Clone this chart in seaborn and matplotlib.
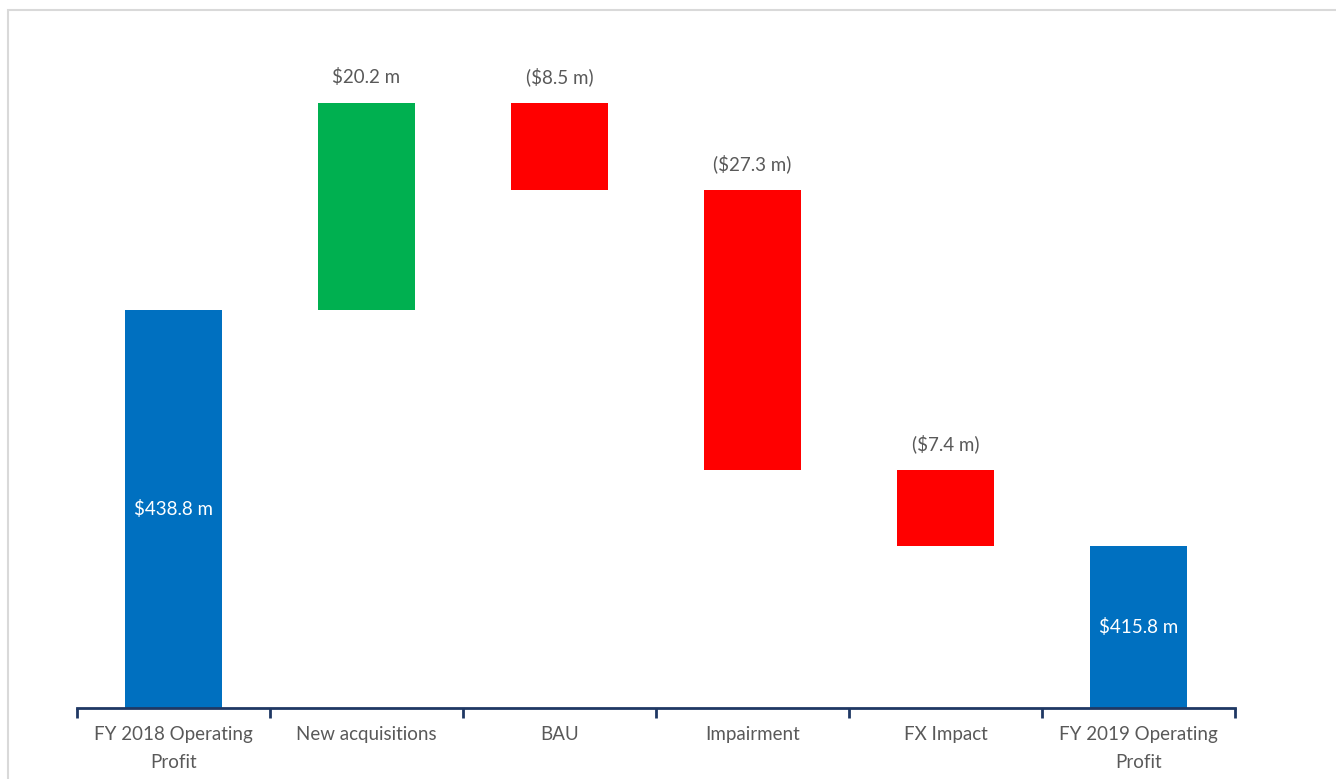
import numpy as np
import pandas as pd
import seaborn as sns
import matplotlib.pyplot as plt
from matplotlib.patches import Rectangle
from matplotlib.ticker import FixedLocator

sns.set_theme(style="white")
plt.rcParams['font.family'] = ['Lato', 'DejaVu Sans']

# waterfall data ($m)
steps = ["FY 2018 Operating\nProfit", "New acquisitions", "BAU",
         "Impairment", "FX Impact", "FY 2019 Operating\nProfit"]
changes = [438.8, 20.2, -8.5, -27.3, -7.4, 415.8]
kinds = ["total", "delta", "delta", "delta", "delta", "total"]

colors = {"total": "#0070C0", "up": "#00B050", "down": "#FF0000"}
text_col = "#595959"
axis_col = "#1F3864"

# running totals -> bar bottoms / tops
lows, highs, kind_col = [], [], []
running = 0.0
for val, k in zip(changes, kinds):
    if k == "total":
        lows.append(0.0)
        highs.append(val)
        running = val
        kind_col.append("total")
    else:
        start = running
        running = running + val
        lows.append(min(start, running))
        highs.append(max(start, running))
        kind_col.append("up" if val > 0 else "down")

df = pd.DataFrame({"step": steps, "low": lows, "high": highs, "kind": kind_col})
df["height"] = df["high"] - df["low"]

fig = plt.figure(figsize=(13.36, 7.79), dpi=100)
ax = fig.add_axes([77 / 1336, 71 / 779, (1235 - 77) / 1336, (708 - 40) / 779])

for i, row in df.iterrows():
    sns.barplot(data=df.iloc[[i]], x="step", y="height", order=steps,
                bottom=row["low"], color=colors[row["kind"]], width=0.5,
                saturation=1, ax=ax, linewidth=0)

ymin = 400
ax.set_ylim(ymin, ymin + (708 - 40) / 10.254)
ax.set_xlim(-0.5, len(steps) - 0.5)

fs = 13.5
# labels
for i, row in df.iterrows():
    v = changes[i]
    if row["kind"] == "total":
        txt = f"${v:.1f} m"
        ax.text(i, (max(row["low"], ymin) + row["high"]) / 2, txt, ha="center",
                va="center", color="white", fontsize=fs)
    else:
        txt = f"${v:.1f} m" if v > 0 else f"(${-v:.1f} m)"
        ax.annotate(txt, (i, row["high"]), xytext=(0, 12), textcoords="offset points",
                    ha="center", va="bottom", color=text_col, fontsize=fs)

# axes styling
for s in ["top", "right", "left"]:
    ax.spines[s].set_visible(False)
ax.spines["bottom"].set_color(axis_col)
ax.spines["bottom"].set_linewidth(2)
ax.set_yticks([])
ax.set_xlabel(None)
ax.set_ylabel(None)

ax.xaxis.set_major_locator(FixedLocator(np.arange(-0.5, len(steps), 1.0)))
ax.xaxis.set_minor_locator(FixedLocator(np.arange(len(steps))))
ax.set_xticklabels([])
ax.set_xticklabels(steps, minor=True)
ax.tick_params(axis="x", which="major", length=7, width=2, color=axis_col, direction="out", bottom=True)
ax.tick_params(axis="x", which="minor", length=0, pad=13, labelsize=fs, labelcolor=text_col)
for lab in ax.get_xticklabels(minor=True):
    lab.set_verticalalignment("top")
    lab.set_linespacing(1.75)

# light frame around the chart area
fig.patches.append(Rectangle((8 / 1336, -0.1), 1.2, (779 - 10) / 779 + 0.1,
                             transform=fig.transFigure, fill=False,
                             edgecolor="#D9D9D9", linewidth=1.5))

fig.savefig("out.png", dpi=100)
